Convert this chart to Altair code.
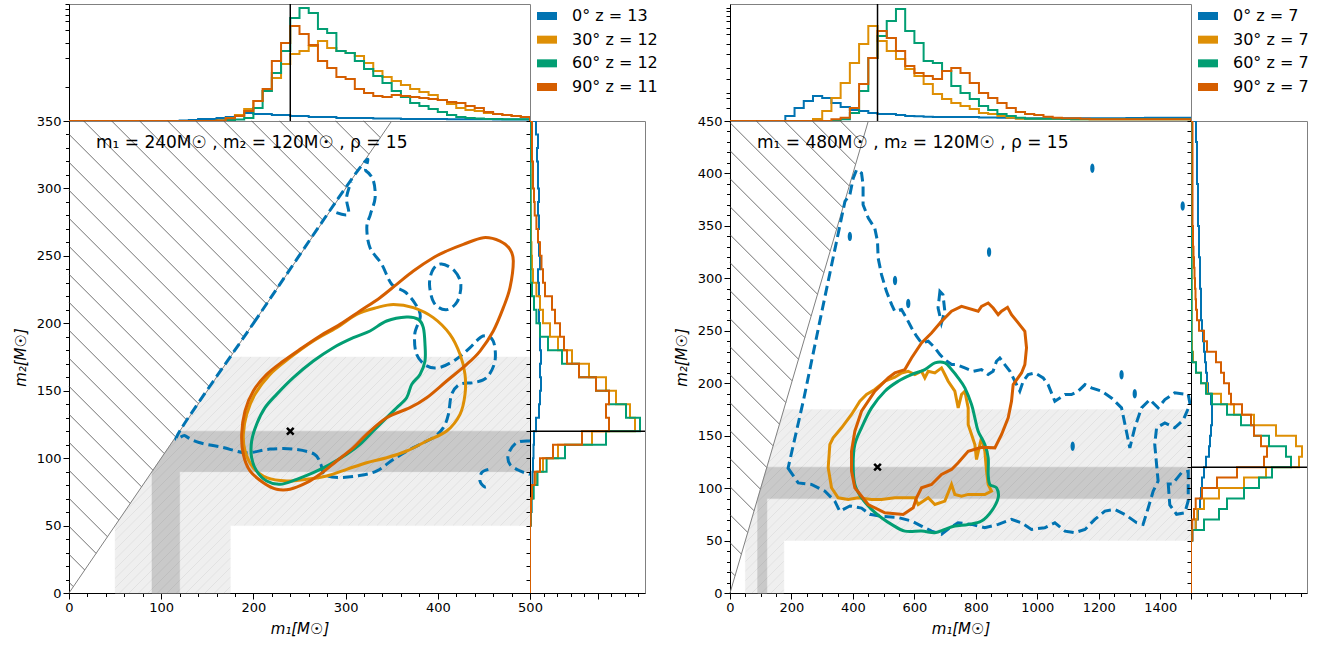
import altair as alt
import pandas as pd

# ---------------- data ----------------
SERIES = ["0", "30", "60", "90"]
COLORS = ["#0173b2", "#de8f05", "#029e73", "#d55e00"]
LEGEND_L = ["0°  z = 13", "30°  z = 12", "60°  z = 12", "90°  z = 11"]
LEGEND_R = ["0°  z = 7", "30°  z = 7", "60°  z = 7", "90°  z = 7"]
NOTE_L = "m₁ = 240M☉ , m₂ = 120M☉ , ρ = 15"
NOTE_R = "m₁ = 480M☉ , m₂ = 120M☉ , ρ = 15"
INJ_L = [240, 120]
INJ_R = [480, 120]
XMAX_L, YMAX_L = 500, 350
XMAX_R, YMAX_R = 1500, 450
LIGHT_BAND = [50, 175]
DARK_BAND = [90, 120]

# top histograms (m1), left panel: bins of 10 from 0
TOP_L_BW = 10
TOP_L = {
    "0": [0, 0, 0, 0, 0, 0, 0, 0, 0, 0, 0, 0, 0.5, 1, 2, 2, 3, 4, 5, 8, 7, 7, 6, 6, 5,
          5, 4, 4, 4, 3, 3, 3, 3, 2.5, 2.5, 2.5, 2, 2, 2, 2, 2, 1.8, 1.8, 1.8, 1.7, 1.7, 1.6, 1.6, 1.5, 1.5],
    "30": [0, 0, 0, 0, 0, 0, 0, 0, 0, 0, 0, 0, 0, 0, 0, 0, 0.5, 3, 6, 12, 20, 30, 43, 57, 67,
           70, 75, 80, 73, 70, 68, 65, 58, 50, 44, 40, 36, 32, 29, 26, 21, 17, 13, 11, 10, 8, 7, 6, 5, 4],
    "60": [0, 0, 0, 0, 0, 0, 0, 0, 0, 0, 0, 0, 0, 0, 0, 0, 0.5, 1, 1.5, 3, 13, 30, 48, 70, 103,
           113, 108, 92, 88, 70, 68, 60, 52, 45, 38, 30, 24, 18, 15, 12, 9, 6, 4, 3, 2.5, 2, 2, 1.7, 1.7, 1.7],
    "90": [0, 0, 0, 0, 0, 0, 0, 0, 0, 0, 0, 0, 0, 0, 0, 0, 0.5, 2.7, 5, 10, 20, 32, 60, 78, 95,
           87, 76, 60, 53, 44, 42, 32, 28, 25, 24, 26, 25, 24, 23, 22, 21, 19, 18, 15, 13, 9, 7, 6, 5, 4],
}
# top histograms, right panel: bins of 30 from 0
TOP_R_BW = 30
TOP_R = {
    "0": [0, 0, 0, 0, 0, 0, 5, 13, 20, 25, 23, 18, 14, 11, 10, 8, 7, 7, 6, 5, 4.7, 4.3, 4, 4, 4,
          4, 4, 3.5, 3.5, 3.3, 3, 2.7, 2.7, 2.7, 2.7, 2.7, 2.7, 2.7, 2.7, 2.7, 2.7, 2.7, 2.7, 3, 3,
          3.3, 3.3, 3.3, 3.3, 3.3],
    "30": [0, 0, 0, 0, 0, 0, 0, 0, 0, 2, 10, 23, 38, 58, 77, 95, 80, 70, 62, 52, 45, 37, 27, 22, 18,
           15, 12, 8, 7, 5, 3.3, 2.3, 2.3, 2.3, 2.3, 2.3, 2, 1.7, 1.7, 1.7, 1.7, 1.7, 1.7, 1.7, 1.7,
           1.7, 1.7, 1.7, 1.7, 1.7],
    "60": [0, 0, 0, 0, 0, 0, 0, 0, 0, 0, 0, 0, 1.7, 8, 30, 63, 85, 100, 112, 90, 78, 60, 58, 50, 35,
           28, 22, 15, 11, 7, 5, 3.3, 2.3, 2.3, 2.3, 2.3, 2, 1.7, 1.7, 1.7, 1.7, 1.7, 1.7, 1.7, 1.7,
           1.7, 1.7, 1.7, 1.7, 1.7],
    "90": [0, 0, 0, 0, 0, 0, 0, 0, 0, 0, 0, 1.7, 3.3, 13, 37, 63, 90, 83, 70, 55, 48, 45, 42, 50, 53,
           48, 38, 28, 23, 18, 13, 9, 7, 6, 4.3, 3.3, 2.7, 2.7, 2.3, 1.7, 1.7, 1.7, 1.7, 1.7, 1.7,
           1.7, 1.7, 1.7, 1.7, 1.7],
}
# right histograms (m2): bins of 10 from 0
SIDE_BW = 10
SIDE_L = {
    "0": [0, 0, 0, 0, 0, 1, 1.5, 2, 2.5, 3, 3.5, 4, 6, 9, 10, 11, 10, 11, 10, 10, 9, 10, 9, 8, 10,
          9, 8, 9, 8, 9, 8, 8, 7, 8, 6],
    "30": [0, 0, 0, 0, 0, 0.5, 0.7, 3, 6.4, 13, 28, 62, 105, 100, 86, 76, 59, 42, 28, 20, 13, 10,
           6.4, 3, 2, 1.5, 1, 1, 0.8, 0.7, 0.6, 0.5, 0.5, 0.5, 0.5],
    "60": [0, 0, 0, 0, 0, 0.5, 1.4, 3.7, 7.5, 16.6, 35, 76, 110, 96, 79, 66, 49, 32, 18, 10, 6.4, 4,
           2, 0.7, 0.5, 0.5, 0.5, 0.5, 0.5, 0.5, 0.5, 0.5, 0.5, 0.5, 0.5],
    "90": [0, 0, 0, 0, 0, 0.5, 1, 2, 4.7, 10, 23, 52, 79, 76, 79, 66, 49, 37, 34, 30, 25, 22, 15, 13,
           11.5, 10, 8, 6.4, 4.7, 4, 3, 3, 2, 2, 2],
}
SIDE_R = {
    "0": [0, 0, 0, 0, 0, 1.3, 4.7, 7, 9, 10, 11, 13, 15, 18, 19, 20, 21, 21, 20, 17, 16, 15, 14, 13,
          12, 11, 10, 10, 10, 9, 9, 9, 8, 8, 8, 7, 7, 7, 7, 6, 6, 6, 6, 5, 5],
    "30": [0, 0, 0, 0, 0, 1, 4.7, 6.3, 13, 28, 53, 75, 108, 111, 105, 85, 63, 43, 30, 16, 10, 5, 2, 1,
           0.7, 0.7, 0.7, 0.7, 0.7, 0.7, 0.7, 0.7, 0.7, 0.7, 0.7, 0.7, 0.7, 0.7, 0.7, 0.7, 0.7, 0.7,
           0.7, 0.7, 0.7],
    "60": [0, 0, 0, 0, 0, 1.3, 13, 28, 36, 53, 68, 81, 100, 95, 78, 63, 50, 36, 21, 15, 10, 5, 1.3,
           0.5, 0.5, 0.5, 0.5, 0.5, 0.5, 0.5, 0.5, 0.5, 0.5, 0.5, 0.5, 0.5, 0.5, 0.5, 0.5, 0.5, 0.5,
           0.5, 0.5, 0.5, 0.5],
    "90": [0, 0, 0, 0, 0, 1.3, 1.3, 3, 4.7, 11, 26, 46, 73, 76, 70, 63, 60, 51, 40, 38, 33, 30, 25, 16,
           13, 8, 6, 5, 4.5, 4, 3.5, 3, 2.5, 2, 2, 1.5, 1.5, 1.5, 1.5, 1.5, 1.5, 1.5, 1.5, 1.5, 1.5],
}
TOP_TICKS_L = [33.7, 63.2, 78, 90.5, 99.8, 106.5, 112.4, 116.6]
TOP_TICKS_R = [13, 23, 28, 42, 53, 67, 77, 87, 93, 100, 105, 110, 113]
SIDE_TICKS_L = [0, 13.5, 27, 40.5, 54, 67.5, 81, 94.5, 108]
SIDE_TICKS_R = [0, 15.7, 31.4, 47.1, 62.8, 78.5, 94.2, 109.9]

# contours (m1, m2)
C_L = {
    ("0", "a", "closed"): [(121, 121), (200, 200), (313, 313), (322, 313), (330, 306), (332, 293), (327, 281),
                           (323, 271), (326.5, 256), (339, 244), (350, 229), (365, 223), (376, 214), (381, 205),
                           (375, 192), (377, 177), (388, 168.4), (402, 167.2), (420, 173.3), (435, 182),
                           (449, 190.6), (460, 187), (462, 172), (453, 159.7), (439, 156), (424, 154.8),
                           (415, 147.3), (411.5, 132.5), (406, 122.6), (395, 115.2), (373.5, 107.8),
                           (352, 99.2), (334, 90.5), (314, 87), (291.5, 85.7), (277, 88), (273, 95.6),
                           (266, 103), (244, 106.7), (218, 106.7), (192, 104), (166.5, 108), (141, 111.6),
                           (126, 116.6)],
    ("0", "b", "closed"): [(404, 244), (418, 239), (425, 229), (421, 216), (409, 210), (396, 215), (391, 229),
                           (395, 240)],
    ("0", "c", "open"): [(500, 112.7), (485.5, 111.5), (476.5, 102.8), (478.3, 95.4), (489.2, 90.5), (500, 88)],
    ("0", "d", "open"): [(454.8, 91.7), (447.6, 89.2), (445.8, 83), (451.2, 78.6), (456.6, 80.6)],
    ("0", "e", "open"): [(290, 282), (303, 281), (301, 293), (306, 305)],
    ("30", "a", "closed"): [(351.8, 214), (373.5, 211.6), (395.1, 204.2), (413.2, 191.8), (424.1, 177),
                            (429.5, 162.1), (429.5, 147.3), (424.1, 132.5), (409.6, 120.1), (387.9, 112.7),
                            (366.2, 105.3), (344.5, 100.3), (322.8, 96.6), (301.2, 91.7), (279.5, 86.8),
                            (257.8, 84.3), (236.1, 83), (214.4, 85.5), (199.9, 92.9), (190.9, 105.3),
                            (189.1, 117.7), (192.7, 132.5), (201.7, 147.3), (218, 162.1), (239.7, 174.5),
                            (265, 186.9), (290.3, 196.7), (312, 206.6), (333.7, 211.6)],
    ("60", "a", "closed"): [(366.2, 204.7), (378.9, 202.9), (384.3, 196.7), (386.1, 184.4), (386.1, 172),
                            (380.7, 162.1), (371.7, 154.7), (366.2, 144.8), (355.4, 137.4), (344.5, 130),
                            (330, 120.1), (315.6, 110.2), (301.2, 102.8), (283.1, 95.4), (265, 89.2),
                            (246.9, 84.3), (228.9, 80.6), (214.4, 83), (203.5, 90.5), (198.1, 100.3),
                            (198.1, 112.7), (203.5, 125.1), (212.6, 137.4), (225.2, 147.3), (243.3, 159.7),
                            (265, 172), (286.7, 181.9), (308.4, 189.3), (326.5, 194.3), (344.5, 201.7)],
    ("90", "a", "closed"): [(449.4, 263.5), (467.5, 261), (478.3, 254.8), (481.9, 246.2), (478.3, 226.4),
                            (471.1, 211.6), (460.2, 194.3), (445.8, 179.4), (431.3, 169.5), (409.6, 157.2),
                            (387.9, 144.8), (369.8, 137.4), (344.5, 130), (322.8, 117.7), (308.4, 107.8),
                            (290.3, 97.9), (272.2, 88), (257.8, 81.8), (239.7, 76.9), (225.2, 76.9),
                            (210.8, 81.8), (196.3, 90.5), (189.1, 102.8), (187.3, 117.7), (190.9, 135),
                            (199.9, 149.8), (214.4, 162.1), (232.5, 172), (250.5, 180.7), (272.2, 190.6),
                            (293.9, 199.2), (315.6, 209.1), (337.3, 219), (355.4, 228.9), (373.5, 238.8),
                            (395.1, 248.6), (409.6, 253.6), (427.7, 258.5)],
}
C_R = {
    ("0", "a", "closed"): [(189, 119), (222, 105), (265, 103.5), (309, 97), (341, 87.6), (357, 78), (390, 83),
                           (428, 81), (455, 75), (493, 73), (547, 72), (591, 68.6), (623, 63.8), (656, 59),
                           (688, 56), (715, 62), (742, 67), (786, 65.4), (829, 62.2), (873, 65.4), (916, 70.2),
                           (948, 67), (981, 60.6), (1024, 62.2), (1057, 67), (1090, 59), (1122, 57.5),
                           (1155, 60.6), (1187, 70.2), (1220, 78.1), (1252, 79.7), (1285, 74.9), (1323, 67),
                           (1344, 65.4), (1361, 81.3), (1377, 97.1), (1393, 106.7), (1388, 122.5),
                           (1382, 141.6), (1388, 157.5), (1415, 162.2), (1447, 157.5), (1475, 165),
                           (1497, 180), (1491, 189.2), (1447, 190.8), (1415, 184.4), (1393, 176.5),
                           (1366, 184.4), (1339, 176.5), (1317, 157.5), (1301, 138.4), (1274, 176.5),
                           (1241, 186), (1209, 192.4), (1176, 195.6), (1155, 198.7), (1133, 192.4),
                           (1111, 189.2), (1090, 189.2), (1057, 182.9), (1035, 198.7), (1019, 205.1),
                           (992, 209.8), (970, 208.3), (954, 201.9), (943, 192.4), (927, 201.9), (911, 211.4),
                           (894, 217.8), (878, 224.1), (867, 220.9), (856, 211.4), (840, 208.3), (818, 213),
                           (791, 211.4), (764, 214.6), (737, 217.8), (721, 217.8), (699, 222.5), (683, 227.3),
                           (667, 233.7), (645, 240), (623, 238.4), (607, 244.8), (591, 252.7), (574, 262.2),
                           (558, 270.2), (536, 268.6), (526, 274.9), (509, 287.6), (493, 303.5), (482, 319.4),
                           (480, 335.2), (471, 347.9), (450, 357.5), (433, 370.2), (433, 389.2), (428, 400.3),
                           (412, 403.5), (401, 395.6), (390, 379.7), (374, 373.3), (300, 270), (240, 185)],
    ("0", "b", "closed"): [(683, 287.6), (677, 271.7), (688, 257.5), (699, 268.6), (693, 284.4)],
    ("0", "c", "closed"): [(1426, 104), (1431, 84), (1453, 75), (1480, 76.5), (1491, 88), (1491, 116),
                           (1469, 114.6), (1440, 104)],
    ("30", "a", "closed"): [(319.5, 119.4), (324.9, 141.6), (335.7, 147.9), (362.9, 157.5), (395.4, 170.2),
                            (422.5, 182.9), (444.2, 189.2), (471.3, 194), (503.9, 201.9), (536.4, 205.7),
                            (558.1, 209.8), (579.8, 211.4), (601.5, 208.3), (623.2, 211.4), (634, 205.1),
                            (644.9, 211.4), (666.6, 209.8), (688.2, 214.6), (699.1, 208.3), (709.9, 201.9),
                            (731.6, 192.4), (742.5, 176.5), (753.3, 189.2), (764.2, 192.4), (775, 176.5),
                            (775, 160.6), (785.9, 151.1), (796.7, 141.6), (802.1, 127.3), (813, 141.6),
                            (818.4, 147.9), (829.2, 135.2), (834.7, 116.2), (840.1, 103.5), (850.9, 97.1),
                            (829.2, 93.9), (807.5, 94), (775, 94), (753.3, 92.4), (731.6, 94), (720.8, 103.5),
                            (699.1, 87.6), (666.6, 84.4), (644.9, 90.8), (612.3, 84.4), (601.5, 90.8),
                            (568.9, 90.8), (536.4, 90.8), (493, 89.2), (460.5, 89.2), (417.1, 90.8),
                            (384.6, 89.2), (352, 90.8), (330.3, 100.3)],
    ("60", "a", "closed"): [(666.6, 219.4), (699.1, 219.4), (720.8, 213), (742.5, 205.1), (764.2, 195.6),
                            (785.9, 179.7), (796.7, 167), (807.5, 154.3), (829.2, 141.6), (840.1, 128.9),
                            (840.1, 113), (845.5, 103.5), (867.2, 100.3), (872.6, 90.8), (850.9, 78.1),
                            (818.4, 68.6), (775, 65.4), (731.6, 63.8), (699.1, 60.6), (666.6, 57.5),
                            (623.2, 59), (568.9, 59), (525.6, 65.4), (493, 71.7), (460.5, 79.7), (427.9, 90.8),
                            (406.2, 103.5), (400.8, 122.5), (406.2, 141.6), (427.9, 157.5), (460.5, 176.5),
                            (503.9, 192.4), (547.2, 201.9), (590.6, 208.3), (634, 213)],
    ("90", "a", "closed"): [(395.4, 116.2), (406.2, 100.3), (449.6, 84.4), (503.9, 76.5), (563.5, 74.9),
                            (596.1, 81.3), (606.9, 90.8), (623.2, 100.3), (655.7, 103.5), (688.2, 113),
                            (720.8, 117.8), (742.5, 124.1), (775, 135.2), (818.4, 139), (861.8, 138.4),
                            (883.5, 151.1), (905.2, 167), (916, 182.9), (921.4, 198.7), (948.5, 209.8),
                            (959.4, 217.8), (964.8, 233.7), (959.4, 249.5), (937.7, 257.5), (916, 265.4),
                            (903, 272.4), (883.5, 268.6), (872.6, 265.4), (856.4, 271.7), (840.1, 276.5),
                            (818.4, 273.3), (807.5, 268.6), (753.3, 273.3), (720.8, 268.6), (688.2, 259),
                            (655.7, 247.9), (623.2, 238.4), (590.6, 224.1), (568.9, 213), (536.4, 209.8),
                            (514.7, 205.1), (471.3, 192.4), (427.9, 173.3), (406.2, 154.3), (395.4, 135.2)],
}
BLOBS_R = [(1179, 405), (1473, 369), (843, 325), (1115, 140), (390, 340), (537, 298), (580, 276),
           (1274, 208), (1317, 190)]

FONT = "DejaVu Sans"
BLACK = "#000000"


# ---------------- helpers ----------------
def step_rows(hist, bw):
    rows = []
    for s in SERIES:
        vals = hist[s]
        i = 0
        rows.append(dict(s=s, pos=0, val=0, i=i)); i += 1
        for k, v in enumerate(vals):
            rows.append(dict(s=s, pos=k * bw, val=v, i=i)); i += 1
            rows.append(dict(s=s, pos=(k + 1) * bw, val=v, i=i)); i += 1
        rows.append(dict(s=s, pos=len(vals) * bw, val=0, i=i))
    return pd.DataFrame(rows)


def contour_rows(cdict, kind):
    rows = []
    for (s, cid, k), pts in cdict.items():
        if k != kind:
            continue
        for i, (a, b) in enumerate(pts):
            rows.append(dict(s=s, cid=s + cid, m1=a, m2=b, i=i))
    return pd.DataFrame(rows)


def hatch_rows(W, H, xmax, ymax, spacing):
    # "\" hatching of the m2 > m1 triangle
    px, py = W / xmax, H / ymax
    k = py / px
    rows = []
    c = -H / k
    sid = 0
    while c < H:
        x0 = max(0.0, -c)
        xe = (H - c) / (1 + k)
        if xe > x0:
            for X in (x0, xe):
                Y = X + c
                rows.append(dict(sid=sid, m1=X / px, m2=ymax - Y / py))
            sid += 1
        c += spacing
    return pd.DataFrame(rows)


def fine_hatch_rows(W, H, xmax, ymax, band, spacing):
    # "/" hatching clipped to the L-shaped band (two convex pieces)
    px, py = W / xmax, H / ymax
    lo, hi = band
    pieces = [[(lo, 0), (hi, 0), (hi, hi), (lo, lo)],
              [(hi, lo), (xmax, lo), (xmax, hi), (hi, hi)]]
    rows = []
    sid = 0
    for poly in pieces:
        P = [(a * px, H - b * py) for a, b in poly]
        c = 0.0
        while c < W + H:
            ts = []
            for j in range(len(P)):
                (x1, y1), (x2, y2) = P[j], P[(j + 1) % len(P)]
                d = (x2 - x1) + (y2 - y1)
                if abs(d) < 1e-9:
                    continue
                s = (c - x1 - y1) / d
                if -1e-9 <= s <= 1 + 1e-9:
                    ts.append(x1 + s * (x2 - x1))
            if len(ts) >= 2 and max(ts) - min(ts) > 0.5:
                for X in (min(ts), max(ts)):
                    Y = c - X
                    rows.append(dict(sid=sid, m1=X / px, m2=(H - Y) / py))
                sid += 1
            c += spacing
    return pd.DataFrame(rows)


def band_polygon(band, xmax):
    lo, hi = band
    pts = [(lo, 0), (hi, 0), (hi, lo), (xmax, lo), (xmax, hi), (hi, hi), (lo, lo)]
    return pd.DataFrame([dict(m1=a, m2=b, i=i) for i, (a, b) in enumerate(pts)])


COLOR = alt.Color("s:N", scale=alt.Scale(domain=SERIES, range=COLORS), legend=None)


def panel(xmax, ymax, W, H, side_w, top_h, hist_top, top_bw, hist_side, contours, inj, note,
          legend_labels, top_ticks, side_ticks, xstep_minor, xstep_major, blobs):
    xs = alt.Scale(domain=[0, xmax], nice=False, zero=False)
    ys = alt.Scale(domain=[0, ymax], nice=False, zero=False)
    xaxis = alt.Axis(values=list(range(0, xmax + 1, xstep_minor)), format="d",
                     labelExpr=f"datum.value % {xstep_major} === 0 ? datum.label : ''",
                     tickSize={"condition": {"test": f"datum.value % {xstep_major} === 0", "value": 6}, "value": 3.5},
                     title="m₁[M☉]", grid=False, domainColor=BLACK, tickColor=BLACK, labelColor=BLACK,
                     labelFontSize=13, titleFontSize=15, titleFontStyle="italic", titleFontWeight="normal",
                     titleColor=BLACK, labelFont=FONT, titleFont=FONT, labelFlush=False, titlePadding=7)
    yaxis = alt.Axis(values=list(range(0, ymax + 1, 10)), format="d",
                     labelExpr="datum.value % 50 === 0 ? datum.label : ''",
                     tickSize={"condition": {"test": "datum.value % 50 === 0", "value": 6}, "value": 3.5},
                     title="m₂[M☉]", grid=False, domainColor=BLACK, tickColor=BLACK, labelColor=BLACK,
                     labelFontSize=13, titleFontSize=15, titleFontStyle="italic", titleFontWeight="normal",
                     titleColor=BLACK, labelFont=FONT, titleFont=FONT, labelFlush=False, titlePadding=8)

    def X(f="m1:Q"):
        return alt.X(f, scale=xs, axis=xaxis)

    def Y(f="m2:Q"):
        return alt.Y(f, scale=ys, axis=yaxis)

    light = alt.Chart(band_polygon(LIGHT_BAND, xmax)).mark_line(
        interpolate="linear-closed", fill="#efefef", fillOpacity=1, stroke="#efefef", strokeWidth=0.5).encode(
        x=X(), y=Y(), order="i:Q")
    dark = alt.Chart(band_polygon(DARK_BAND, xmax)).mark_line(
        interpolate="linear-closed", fill="#c9c9c9", fillOpacity=1, stroke="#c9c9c9", strokeWidth=0.5).encode(
        x=X(), y=Y(), order="i:Q")
    fine = alt.Chart(fine_hatch_rows(W, H, xmax, ymax, LIGHT_BAND, 9.5)).mark_line(
        color=BLACK, strokeOpacity=0.07, strokeWidth=0.8).encode(x=X(), y=Y(), detail="sid:N")
    hatch = alt.Chart(hatch_rows(W, H, xmax, ymax, 28)).mark_line(
        color="#4d4d4d", strokeWidth=0.8).encode(x=X(), y=Y(), detail="sid:N")
    diag = alt.Chart(pd.DataFrame(dict(m1=[0, ymax], m2=[0, ymax]))).mark_line(
        color="#808080", strokeWidth=1).encode(x=X(), y=Y())

    layers = [light, dark, fine, hatch, diag]
    cl = contour_rows(contours, "closed")
    co = contour_rows(contours, "open")
    blue_c = cl[cl.s == "0"]
    other_c = cl[cl.s != "0"]
    smooth = xmax < 1000
    layers.append(alt.Chart(blue_c).mark_line(
        strokeWidth=3, strokeDash=[10, 5], interpolate="cardinal-closed" if smooth else "linear-closed",
        clip=True).encode(x=X(), y=Y(), color=COLOR, detail="cid:N", order="i:Q"))
    if len(co):
        layers.append(alt.Chart(co).mark_line(
            strokeWidth=3, strokeDash=[10, 5], interpolate="cardinal", clip=True).encode(
            x=X(), y=Y(), color=COLOR, detail="cid:N", order="i:Q"))
    if blobs:
        layers.append(alt.Chart(pd.DataFrame(blobs, columns=["m1", "m2"])).mark_point(
            shape="M0,-1C0.6,-1 0.6,1 0,1C-0.6,1 -0.6,-1 0,-1Z", filled=True, size=90,
            color=COLORS[0], opacity=1).encode(x=X(), y=Y()))
    for s in SERIES[1:]:
        sub = other_c[other_c.s == s]
        interp = "cardinal-closed" if (smooth or s == "60") else "linear-closed"
        layers.append(alt.Chart(sub).mark_line(strokeWidth=3, interpolate=interp, clip=True).encode(
            x=X(), y=Y(), color=COLOR, detail="cid:N", order="i:Q"))
    layers.append(alt.Chart(pd.DataFrame(dict(m1=[inj[0]], m2=[inj[1]]))).mark_point(
        shape="M-1,-1L1,1M-1,1L1,-1", size=45, strokeWidth=2.5, color=BLACK, filled=False,
        opacity=1).encode(x=X(), y=Y()))
    layers.append(alt.Chart(pd.DataFrame(dict(t=[note]))).mark_text(
        align="left", baseline="middle", fontSize=17, font=FONT, color=BLACK).encode(
        text="t:N", x=alt.value(27), y=alt.value(22)))
    main = alt.layer(*layers).properties(width=W, height=H)

    # top histogram
    tdf = step_rows(hist_top, top_bw)
    ty = alt.Y("val:Q", scale=alt.Scale(domain=[0, top_h], nice=False),
               axis=alt.Axis(values=top_ticks, labels=False, tickSize=4, grid=False, title=None,
                             domainColor=BLACK, tickColor=BLACK))
    tx = alt.X("pos:Q", scale=xs, axis=None)
    top = alt.layer(
        alt.Chart(tdf).mark_line(strokeWidth=2, clip=True).encode(
            x=tx, y=ty, color=COLOR, detail="s:N", order="i:Q"),
        alt.Chart(pd.DataFrame(dict(pos=[inj[0]]))).mark_rule(color=BLACK, strokeWidth=1.5).encode(x=tx),
    ).properties(width=W, height=top_h)

    # side histogram
    sdf = step_rows(hist_side, SIDE_BW)
    major = side_ticks[5]
    sx = alt.X("val:Q", scale=alt.Scale(domain=[0, side_w], nice=False),
               axis=alt.Axis(values=side_ticks, labels=False, grid=False, title=None,
                             tickSize={"condition": {"test": f"datum.value === 0 || datum.value === {major}",
                                                     "value": 6}, "value": 3.5},
                             domainColor=BLACK, tickColor=BLACK))
    sy = alt.Y("pos:Q", scale=ys, axis=alt.Axis(values=list(range(0, ymax + 1, 10)), labels=False, tickSize=4,
                                                grid=False, title=None, domainColor=BLACK, tickColor=BLACK))
    side = alt.layer(
        alt.Chart(sdf).mark_line(strokeWidth=2, clip=True).encode(
            x=sx, y=sy, color=COLOR, detail="s:N", order="i:Q"),
        alt.Chart(pd.DataFrame(dict(pos=[inj[1]]))).mark_rule(color=BLACK, strokeWidth=1.5).encode(y=sy),
    ).properties(width=side_w, height=H)

    # legend
    ldf = pd.DataFrame(dict(s=SERIES, label=legend_labels))
    ly = alt.Y("label:N", sort=legend_labels, axis=None,
               scale=alt.Scale(type="point", domain=legend_labels, range=[12, 83], padding=0))
    leg = alt.layer(
        alt.Chart(ldf).mark_point(shape="M-1,-0.4H1V0.4H-1Z", filled=True, size=400, opacity=1).encode(
            x=alt.value(17), y=ly, color=COLOR),
        alt.Chart(ldf).mark_text(align="left", baseline="middle", fontSize=16, font=FONT, color=BLACK).encode(
            x=alt.value(42), y=ly, text="label:N"),
    ).properties(width=side_w, height=top_h, view=alt.ViewBackground(stroke="transparent"))

    return alt.concat(top, leg, main, side, columns=2, spacing=0, bounds="flush", align="each")


left = panel(XMAX_L, YMAX_L, 461, 472, 115, 117, TOP_L, TOP_L_BW, SIDE_L, C_L, INJ_L, NOTE_L, LEGEND_L,
             TOP_TICKS_L, SIDE_TICKS_L, 20, 100, None)
right = panel(XMAX_R, YMAX_R, 461, 472, 116, 117, TOP_R, TOP_R_BW, SIDE_R, C_R, INJ_R, NOTE_R, LEGEND_R,
              TOP_TICKS_R, SIDE_TICKS_R, 50, 200, BLOBS_R)

chart = alt.hconcat(left, right, spacing=9).properties(
    padding={"left": 12, "top": 2, "right": 5, "bottom": 5}
).configure(font=FONT).configure_view(stroke="#808080")

chart.save("out.html", embed_options={"renderer": "svg", "actions": False})
